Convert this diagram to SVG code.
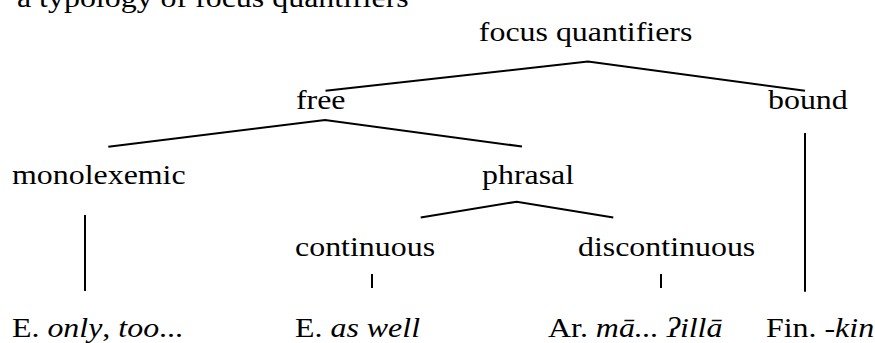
<svg xmlns="http://www.w3.org/2000/svg" width="875" height="343" viewBox="0 0 875 343">
<style>
.c { stroke: #000; stroke-width: 2; fill: none; }
</style>
<rect width="875" height="343" fill="#fff"/>
<g id="connectors">
<polyline class="c" points="325.5,90.7 588,61.6 805,90.7"/>
<polyline class="c" points="108.3,146.7 325,120 522,146.5"/>
<polyline class="c" points="420.7,217.5 516.7,201.7 613.3,217.5"/>
<line class="c" x1="85" y1="215" x2="85" y2="291"/>
<line class="c" x1="372" y1="274" x2="372" y2="288"/>
<line class="c" x1="661" y1="274" x2="661" y2="288"/>
<line class="c" x1="805" y1="133" x2="805" y2="291.7"/>
</g>
<g transform="scale(1.14,1)" font-family="Liberation Serif" font-size="28" fill="#000">
<g id="title"><text x="14.9" y="7">a typology of focus quantifiers</text></g>
<g id="focus-quantifiers"><text x="420" y="41.5">focus quantifiers</text></g>
<g id="free"><text x="259.6" y="109.5">free</text></g>
<g id="bound"><text x="673.7" y="109.5">bound</text></g>
<g id="monolexemic"><text x="10.5" y="184">monolexemic</text></g>
<g id="phrasal"><text x="422.8" y="184">phrasal</text></g>
<g id="continuous"><text x="258.8" y="256">continuous</text></g>
<g id="discontinuous"><text x="507" y="256">discontinuous</text></g>
<g id="ex-english-only"><text x="10.5" y="337">E. <tspan font-style="italic">only</tspan>, <tspan font-style="italic">too</tspan>...</text></g>
<g id="ex-english-aswell"><text x="258.8" y="337">E. <tspan font-style="italic">as well</tspan></text></g>
<g id="ex-arabic"><text x="480.7" y="337">Ar. <tspan font-style="italic">mā... ʔillā</tspan></text></g>
<g id="ex-finnish"><text x="671.9" y="337">Fin. -<tspan font-style="italic">kin</tspan></text></g>
</g>
</svg>
